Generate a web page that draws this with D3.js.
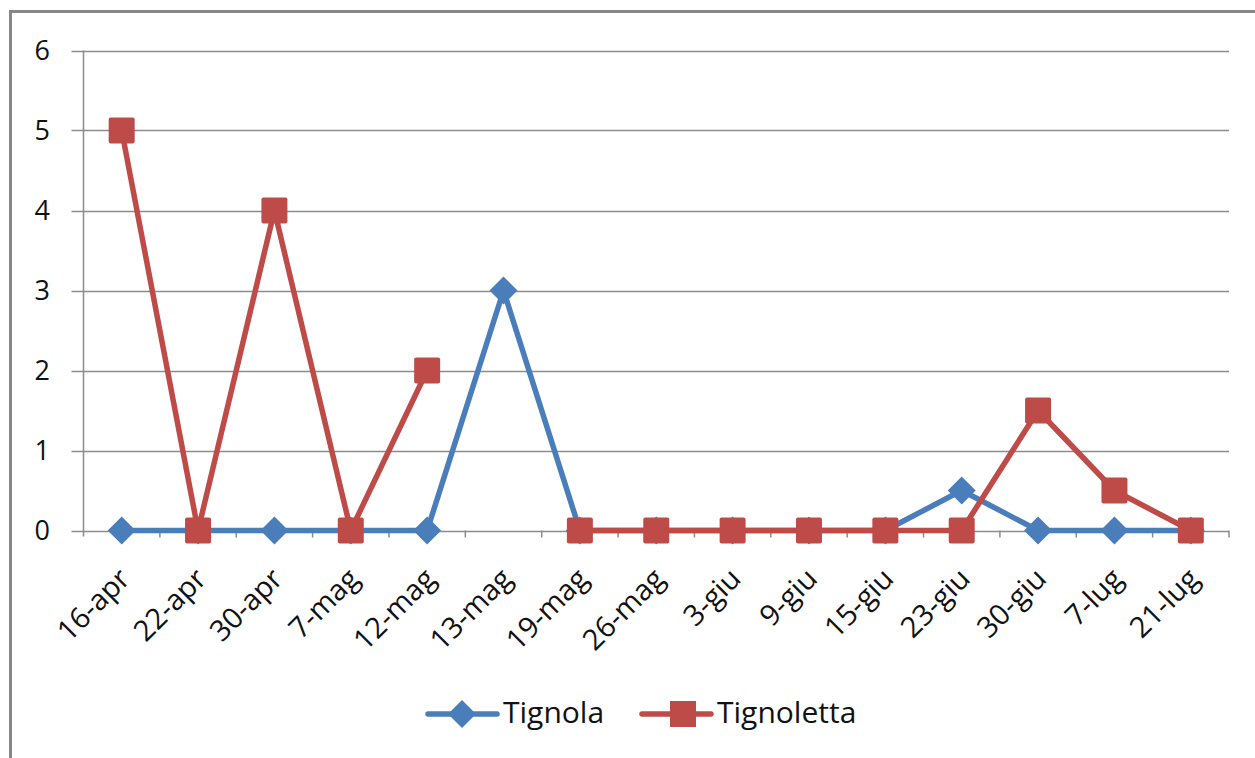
<!DOCTYPE html>
<html><head><meta charset="utf-8">
<script src="https://cdn.jsdelivr.net/npm/d3@7"></script>
<style>body{margin:0;background:#fff}svg{display:block}</style>
</head><body>
<script>
const categories = ["16-apr","22-apr","30-apr","7-mag","12-mag","13-mag","19-mag","26-mag","3-giu","9-giu","15-giu","23-giu","30-giu","7-lug","21-lug"];
const tignola = [0,0,0,0,0,3,0,0,0,0,0,0.5,0,0,0];
const tignoletta = [5,0,4,0,2,null,0,0,0,0,0,0,1.5,0.5,0];
const yTicks = [0,1,2,3,4,5,6];
const seriesNames = ["Tignola","Tignoletta"];

(function(){
const W = 1255, H = 758;
const svg = d3.select("body").append("svg").attr("width", W).attr("height", H);
const font = "'Open Sans', 'Liberation Sans', sans-serif";

svg.append("rect").attr("x",10.5).attr("y",11.5).attr("width",1300).attr("height",800)
  .attr("fill","#fff").attr("stroke","#878787").attr("stroke-width",3);

const pL = 83.5, pR = 1229, pT = 50.5, pB = 530.5;
const x = d3.scaleBand().domain(categories).range([pL, pR]);
const y = d3.scaleLinear().domain([0,6]).range([pB, pT]);

svg.append("g").selectAll("line").data(yTicks).join("line")
  .attr("x1", pL-12).attr("x2", pR).attr("y1", d=>Math.round(y(d))+0.5).attr("y2", d=>Math.round(y(d))+0.5)
  .attr("stroke","#8c8c8c").attr("stroke-width",1.5);

svg.append("line").attr("x1",pL).attr("x2",pL).attr("y1",pT).attr("y2",pB+6)
  .attr("stroke","#8c8c8c").attr("stroke-width",1.5);

const bounds = categories.map(c=> x(c)).concat([pR]);
svg.append("g").selectAll("line").data(bounds.slice(1)).join("line")
  .attr("x1", d=>d).attr("x2", d=>d).attr("y1", pB).attr("y2", pB+7)
  .attr("stroke","#8c8c8c").attr("stroke-width",1.5);

svg.append("g").selectAll("text").data(yTicks).join("text")
  .attr("x", 50).attr("y", d=>y(d)).attr("dy","0.35em").attr("text-anchor","end")
  .attr("font-family", font).attr("font-size", 27).attr("fill","#111").text(d=>d);

svg.append("g").selectAll("text").data(categories).join("text")
  .attr("transform", d=>`translate(${x(d)+x.bandwidth()/2+10},${pB+50}) rotate(-45)`)
  .attr("text-anchor","end")
  .attr("font-family", font).attr("font-size", 29).attr("fill","#111").text(d=>d);

const cx = d => x(d)+x.bandwidth()/2;
const blue = "#4A7EBB", red = "#BE4B48";

function drawSeries(vals, color, shape){
  const data = categories.map((c,i)=>({c, v: vals[i]}));
  const line = d3.line().defined(d=>d.v!==null).x(d=>cx(d.c)).y(d=>y(d.v));
  svg.append("path").datum(data).attr("d", line).attr("fill","none")
    .attr("stroke", color).attr("stroke-width",5.5).attr("stroke-linejoin","round");
  const pts = data.filter(d=>d.v!==null);
  const g = svg.append("g");
  if(shape==="diamond"){
    g.selectAll("path").data(pts).join("path")
      .attr("d", d=>{const X=cx(d.c),Y=y(d.v),r=14;return `M${X},${Y-r}L${X+r},${Y}L${X},${Y+r}L${X-r},${Y}Z`;})
      .attr("fill", color);
  } else {
    g.selectAll("rect").data(pts).join("rect")
      .attr("x", d=>cx(d.c)-13).attr("y", d=>y(d.v)-13).attr("width",26).attr("height",26)
      .attr("rx",2).attr("fill", color);
  }
}
drawSeries(tignola, blue, "diamond");
drawSeries(tignoletta, red, "square");

const ly = 714;
const lg = svg.append("g");
lg.append("line").attr("x1",428).attr("x2",497).attr("y1",ly).attr("y2",ly).attr("stroke",blue).attr("stroke-width",5.5).attr("stroke-linecap","round");
lg.append("path").attr("d",`M462,${ly-14}L476,${ly}L462,${ly+14}L448,${ly}Z`).attr("fill",blue);
lg.append("text").attr("x",503).attr("y",723).attr("font-family",font).attr("font-size",30).attr("fill","#111").text(seriesNames[0]);
lg.append("line").attr("x1",642).attr("x2",711).attr("y1",ly).attr("y2",ly).attr("stroke",red).attr("stroke-width",5.5).attr("stroke-linecap","round");
lg.append("rect").attr("x",670).attr("y",ly-13).attr("width",26).attr("height",26).attr("fill",red);
lg.append("text").attr("x",717).attr("y",723).attr("font-family",font).attr("font-size",30).attr("fill","#111").text(seriesNames[1]);
})();
</script>
</body></html>
